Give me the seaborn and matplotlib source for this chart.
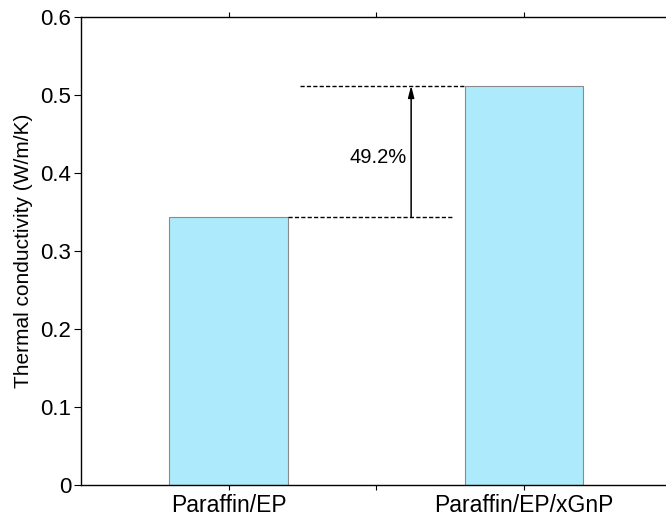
import matplotlib
matplotlib.use("Agg")
import matplotlib.pyplot as plt
import seaborn as sns
import pandas as pd

# values
samples = ["Paraffin/EP", "Paraffin/EP/xGnP"]
conductivity = [0.343, 0.512]
increase_label = "49.2%"
y_ticks = [0, 0.1, 0.2, 0.3, 0.4, 0.5, 0.6]
y_tick_labels = ["0", "0.1", "0.2", "0.3", "0.4", "0.5", "0.6"]

df = pd.DataFrame({"sample": samples, "k": conductivity})

sns.set_style("white")
plt.rcParams["font.family"] = ["Liberation Sans", "DejaVu Sans"]
plt.rcParams["text.color"] = "black"
plt.rcParams["axes.labelcolor"] = "black"
plt.rcParams["xtick.color"] = "black"
plt.rcParams["ytick.color"] = "black"

fig = plt.figure(figsize=(6.66, 5.22), dpi=100)
# the frame runs past the right edge of the picture
ax_w = 0.92
ax = fig.add_axes([0.1216, 0.0709, ax_w, 0.8966])

sns.barplot(
    data=df,
    x="sample",
    y="k",
    color="#ADEBFC",
    saturation=1,
    width=0.4,
    edgecolor="#8a8a8a",
    linewidth=0.8,
    ax=ax,
)

# keep the same scale as a -0.5..1.5 axis that is 0.886 of the figure wide
ax.set_xlim(-0.5, -0.5 + 2 * ax_w / 0.886)
ax.set_ylim(0, 0.6)
ax.set_xticks([0, 0.5, 1])
ax.set_xticklabels([samples[0], "", samples[1]])
ax.set_yticks(y_ticks)
ax.set_yticklabels(y_tick_labels)
ax.set_xlabel("")
ax.set_ylabel("Thermal conductivity (W/m/K)", fontsize=15, labelpad=5)

for side in ["left", "top", "bottom"]:
    ax.spines[side].set_visible(True)
    ax.spines[side].set_color("black")
    ax.spines[side].set_linewidth(1.0)
ax.spines["right"].set_visible(False)

ax.tick_params(axis="x", which="both", direction="out", length=3.5, width=0.8,
               top=True, bottom=True, labelsize=16.5, pad=3)
ax.tick_params(axis="y", which="both", direction="out", length=5, width=0.8,
               left=True, right=False, labelsize=16, pad=2)

# comparison annotation
lo, hi = conductivity
ax.plot([0.2, 0.762], [lo, lo], color="black", lw=1.0, ls=(0, (3, 1.6)))
ax.plot([0.243, 0.8], [hi, hi], color="black", lw=1.0, ls=(0, (3, 1.6)))
ax.annotate(
    "",
    xy=(0.619, hi),
    xytext=(0.619, lo),
    arrowprops=dict(arrowstyle="-|>,head_width=0.18,head_length=0.7",
                    color="black", lw=1.1, shrinkA=0, shrinkB=0),
)
ax.text(0.603, 0.42, increase_label, ha="right", va="center", fontsize=14.5)

fig.savefig("out.png", dpi=100)
